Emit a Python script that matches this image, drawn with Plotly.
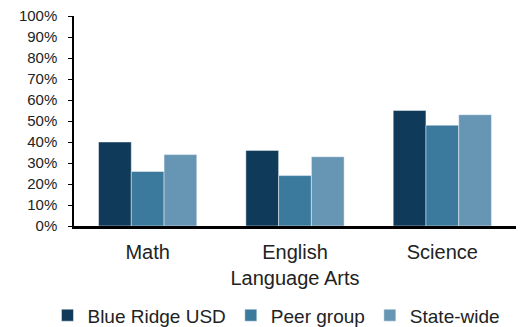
import plotly.graph_objects as go

categories = ["Math", "English<br>Language Arts", "Science"]
series_names = ["Blue Ridge USD", "Peer group", "State-wide"]
blue_ridge = [40, 36, 55]
peer_group = [26, 24, 48]
state_wide = [34, 33, 53]
colors = ["#0F3A5A", "#3B7A9D", "#6796B5"]
y_ticks = list(range(0, 101, 10))

fig = go.Figure()
for name, vals, c in zip(series_names, [blue_ridge, peer_group, state_wide], colors):
    fig.add_trace(go.Bar(
        x=categories, y=vals, name=name,
        marker=dict(color=c, line=dict(color="rgba(255,255,255,0.45)", width=1)),
    ))

fig.update_layout(
    width=522, height=327,
    margin=dict(l=74, r=6, t=16, b=101, autoexpand=False),
    paper_bgcolor="white", plot_bgcolor="white",
    barmode="group", bargap=0.333, bargroupgap=0,
    font=dict(family="Liberation Sans, Arial, sans-serif", color="#222222"),
    showlegend=True,
    legend=dict(orientation="h", x=-0.06, xanchor="left", y=-0.335, yanchor="top",
                font=dict(size=19, color="#222222"), itemwidth=30,
                traceorder="normal"),
)
fig.update_yaxes(
    range=[0, 100], tickvals=y_ticks, ticktext=[f"{v}%" for v in y_ticks],
    showgrid=False, zeroline=False, automargin=False,
    showline=True, linecolor="black", linewidth=1.5,
    ticks="outside", ticklen=4, tickcolor="black", tickwidth=1,
    tickfont=dict(size=15, color="#222222"), ticklabelstandoff=8,
)
fig.update_xaxes(
    showgrid=False, showline=True, linecolor="black", linewidth=2.5,
    automargin=False,
    ticks="", tickfont=dict(size=20, color="#222222"), ticklabelstandoff=6,
)

fig.write_html("out.html")
